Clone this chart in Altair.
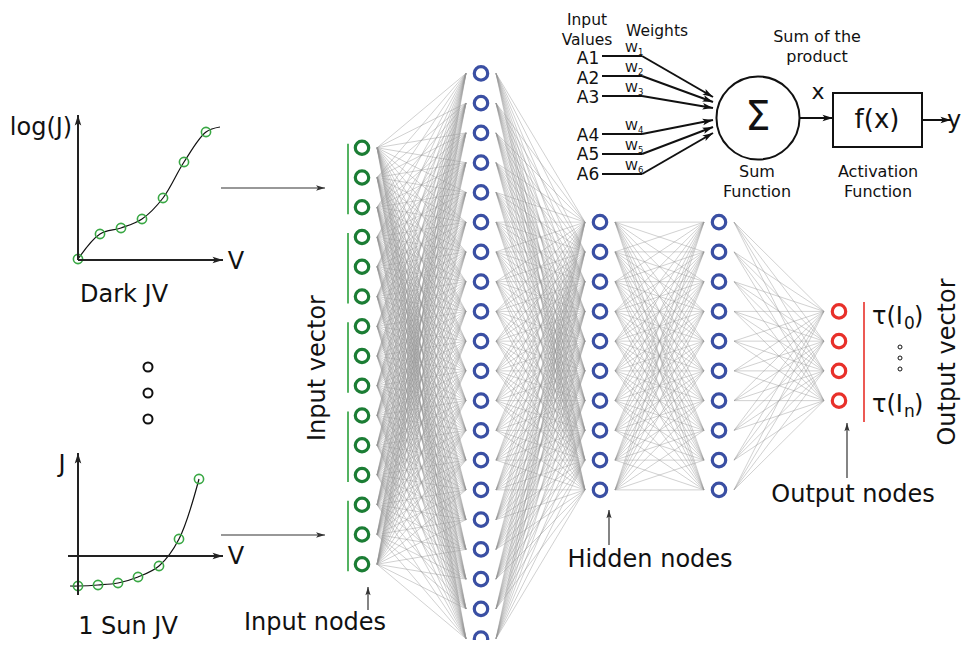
import math
import altair as alt
import pandas as pd

# ---------------- data ----------------
layer_sizes = [15, 20, 10, 10, 4]
layer_x = [362, 481, 600, 719, 839]
layer_colors = ["#1b7d34", "#3a4fa3", "#3a4fa3", "#3a4fa3", "#e8302a"]
center_y = 356
spacing = 29.75
edge_gap = 15

# input vector grouping (3 nodes per measured curve segment)
group_size = 3

# mini plot: Dark JV (drawing coordinates)
dark_pts_x = [78, 100, 121, 142, 163, 184, 206]
dark_pts_y = [259, 234, 228, 219, 198, 162, 132]
dark_curve_x = [78, 100, 121, 142, 163, 184, 206, 220]
dark_curve_y = [259, 234, 228, 219, 198, 162, 132, 127]

# mini plot: 1 Sun JV
sun_pts_x = [78, 98, 118, 138, 159, 179, 199]
sun_pts_y = [586, 585, 583, 577, 566, 539, 479]
sun_curve_x = [70, 78, 98, 118, 138, 159, 179, 199]
sun_curve_y = [586, 586, 585, 583, 577, 566, 539, 479]

# perceptron
inputs = ["A1", "A2", "A3", "A4", "A5", "A6"]
weight_subs = ["1", "2", "3", "4", "5", "6"]
input_line_y = [56, 76, 96, 134, 154, 174]
input_label_y = [59, 79, 98, 136, 155, 175]
weight_label_y = [48, 68, 88, 126, 146, 166]
arrow_tip_y = [97, 102, 108, 120, 127, 133]

# output vector labels
out_subs = ["0", "n"]
out_label_y = [317, 405]

# ---------------- build tables ----------------
node_rows = []
layers_y = []
for li, (n, x, c) in enumerate(zip(layer_sizes, layer_x, layer_colors)):
    ys = [center_y + (i - (n - 1) / 2) * spacing for i in range(n)]
    layers_y.append(ys)
    for y in ys:
        node_rows.append({"x": x, "y": y, "color": c})
nodes = pd.DataFrame(node_rows)

edge_rows = []
for li in range(len(layer_sizes) - 1):
    for y1 in layers_y[li]:
        for y2 in layers_y[li + 1]:
            edge_rows.append({"x": layer_x[li] + edge_gap, "y": y1,
                              "x2": layer_x[li + 1] - edge_gap, "y2": y2})
edges = pd.DataFrame(edge_rows)

bar_rows = []
iy = layers_y[0]
for g in range(0, len(iy), group_size):
    bar_rows.append({"x": 348, "y": iy[g] - 4, "x2": 348, "y2": iy[g + group_size - 1] + 7,
                     "color": "#2aa03a"})
bar_rows.append({"x": 864, "y": 302, "x2": 864, "y2": 422, "color": "#e8302a"})
bars = pd.DataFrame(bar_rows)

pts = pd.DataFrame({"x": dark_pts_x + sun_pts_x, "y": dark_pts_y + sun_pts_y})
curves = pd.DataFrame({
    "x": dark_curve_x + sun_curve_x,
    "y": dark_curve_y + sun_curve_y,
    "curve": ["dark"] * len(dark_curve_x) + ["sun"] * len(sun_curve_x),
    "i": list(range(len(dark_curve_x))) + list(range(len(sun_curve_x))),
})

# arrows: (x1, y1, x2, y2, width, color, headsize)
arrows = [
    (78, 260, 78, 115, 2, "#222", 110),
    (78, 260, 223, 260, 2, "#222", 110),
    (78, 595, 78, 453, 2, "#222", 110),
    (68, 556, 223, 556, 2, "#222", 110),
    (221, 188, 325, 188, 1.2, "#333", 80),
    (221, 535, 325, 535, 1.2, "#333", 80),
    (368, 610, 368, 587, 1.2, "#333", 70),
    (609, 545, 609, 510, 1.2, "#333", 70),
    (847, 478, 847, 423, 1.2, "#333", 70),
    (799, 118, 833, 118, 2, "#111", 110),
    (922, 120, 951, 120, 2, "#111", 110),
]
for ly, ty in zip(input_line_y, arrow_tip_y):
    arrows.append((642, ly, 713, ty, 2, "#111", 110))

line_rows, head_rows = [], []
for x1, y1, x2, y2, w, c, s in arrows:
    line_rows.append({"x": x1, "y": y1, "x2": x2, "y2": y2, "w": w, "color": c})
    d = math.hypot(x2 - x1, y2 - y1)
    ux, uy = (x2 - x1) / d, (y2 - y1) / d
    half = math.sqrt(s) / 2
    ang = math.degrees(math.atan2(uy, ux)) % 360
    head_rows.append({"x": x2 - ux * half, "y": y2 - uy * half, "angle": ang,
                      "size": s, "color": c})
for ly in input_line_y:
    line_rows.append({"x": 602, "y": ly, "x2": 642, "y2": ly, "w": 2, "color": "#111"})
lines = pd.DataFrame(line_rows)
heads = pd.DataFrame(head_rows)

# small circles: ellipsis + output dots + perceptron circle
circ = pd.DataFrame([
    {"x": 148, "y": 367, "size": 81, "w": 2},
    {"x": 148, "y": 393, "size": 81, "w": 2},
    {"x": 148, "y": 419, "size": 81, "w": 2},
    {"x": 900, "y": 347, "size": 16, "w": 1},
    {"x": 900, "y": 358, "size": 16, "w": 1},
    {"x": 900, "y": 369, "size": 16, "w": 1},
    {"x": 758, "y": 118, "size": 6900, "w": 2},
])

box = pd.DataFrame([{"x": 833, "x2": 922, "y": 93, "y2": 147}])

texts = [
    ("log(J)", 41, 128, 24, "center", 0),
    ("V", 236, 262, 24, "center", 0),
    ("Dark JV", 124, 295, 24, "center", 0),
    ("J", 62, 465, 24, "center", 0),
    ("V", 236, 557, 24, "center", 0),
    ("1 Sun JV", 128, 627, 24, "center", 0),
    ("Input vector", 318, 368, 24, "center", 270),
    ("Input nodes", 315, 623, 24, "center", 0),
    ("Hidden nodes", 650, 560, 24, "center", 0),
    ("Output nodes", 853, 495, 24, "center", 0),
    ("Output vector", 948, 362, 24, "center", 270),
    ("Input", 587, 20, 15.5, "center", 0),
    ("Values", 587, 40, 15.5, "center", 0),
    ("Weights", 657, 31, 15.5, "center", 0),
    ("\u03a3", 758, 118, 40, "center", 0),
    ("Sum of the", 817, 37, 16, "center", 0),
    ("product", 817, 57, 16, "center", 0),
    ("x", 818, 92, 22, "center", 0),
    ("f(x)", 877, 120, 26, "center", 0),
    ("y", 954, 121, 24, "center", 0),
    ("Sum", 757, 172, 16, "center", 0),
    ("Function", 757, 192, 16, "center", 0),
    ("Activation", 878, 172, 16, "center", 0),
    ("Function", 878, 192, 16, "center", 0),
]
for a, ay in zip(inputs, input_label_y):
    texts.append((a, 588, ay, 17, "center", 0))
for s_, wy in zip(weight_subs, weight_label_y):
    texts.append(("W", 625, wy, 13, "left", 0))
    texts.append((s_, 638, wy + 4, 8.5, "left", 0))
for s_, oy in zip(out_subs, out_label_y):
    texts.append(("\u03c4(I", 872, oy, 24, "left", 0))
    texts.append((s_, 904, oy + 7, 17, "left", 0))
    texts.append((")", 914, oy, 24, "left", 0))
tdf = pd.DataFrame(texts, columns=["text", "x", "y", "size", "align", "angle"])

# ---------------- chart ----------------
W, H = 953, 632
xs = alt.Scale(domain=[8, 8 + W], nice=False, zero=False)
ys = alt.Scale(domain=[8, 8 + H], nice=False, zero=False, reverse=True)
X = alt.X("x:Q", scale=xs, axis=None)
Y = alt.Y("y:Q", scale=ys, axis=None)

edge_layer = alt.Chart(edges).mark_rule(color="#959595", strokeWidth=0.55, opacity=0.8).encode(
    x=X, y=Y, x2="x2:Q", y2="y2:Q")
bar_layer = alt.Chart(bars).mark_rule(strokeWidth=1.6).encode(
    x=X, y=Y, x2="x2:Q", y2="y2:Q", color=alt.Color("color:N", scale=None))
node_layer = alt.Chart(nodes).mark_point(shape="circle", filled=False, size=180, strokeWidth=3.2, opacity=1).encode(
    x=X, y=Y, color=alt.Color("color:N", scale=None))
curve_layer = alt.Chart(curves).mark_line(interpolate="catmull-rom", color="#111", strokeWidth=1.2).encode(
    x=X, y=Y, detail="curve:N", order="i:Q")
pt_layer = alt.Chart(pts).mark_point(shape="circle", filled=False, size=85, strokeWidth=1.6, color="#3aa845", opacity=1).encode(
    x=X, y=Y)
line_layer = alt.Chart(lines).mark_rule().encode(
    x=X, y=Y, x2="x2:Q", y2="y2:Q", strokeWidth=alt.StrokeWidth("w:Q", scale=None),
    color=alt.Color("color:N", scale=None))
head_layer = alt.Chart(heads).mark_point(shape="M1,0L-1,-0.62L-0.55,0L-1,0.62Z", filled=True, opacity=1).encode(
    x=X, y=Y, angle=alt.Angle("angle:Q", scale=None), size=alt.Size("size:Q", scale=None),
    color=alt.Color("color:N", scale=None))
circ_layer = alt.Chart(circ).mark_point(shape="circle", filled=False, color="#111", opacity=1).encode(
    x=X, y=Y, size=alt.Size("size:Q", scale=None), strokeWidth=alt.StrokeWidth("w:Q", scale=None))
box_layer = alt.Chart(box).mark_rect(fillOpacity=0, stroke="#111", strokeWidth=2).encode(
    x=X, y=Y, x2="x2:Q", y2="y2:Q")

text_layers = []
for al in ["center", "left"]:
    text_layers.append(
        alt.Chart(tdf[tdf["align"] == al]).mark_text(
            font="DejaVu Sans", baseline="middle", align=al, color="#111").encode(
            x=X, y=Y, text="text:N", size=alt.Size("size:Q", scale=None),
            angle=alt.Angle("angle:Q", scale=None)))

chart = alt.layer(
    edge_layer, bar_layer, node_layer, curve_layer, pt_layer, line_layer, head_layer,
    circ_layer, box_layer, *text_layers
).properties(
    width=W, height=H, padding=0, autosize=alt.AutoSizeParams(type="none"), background="white"
).configure_view(stroke=None)

chart.save("out.html", embed_options={"renderer": "svg", "actions": False})
